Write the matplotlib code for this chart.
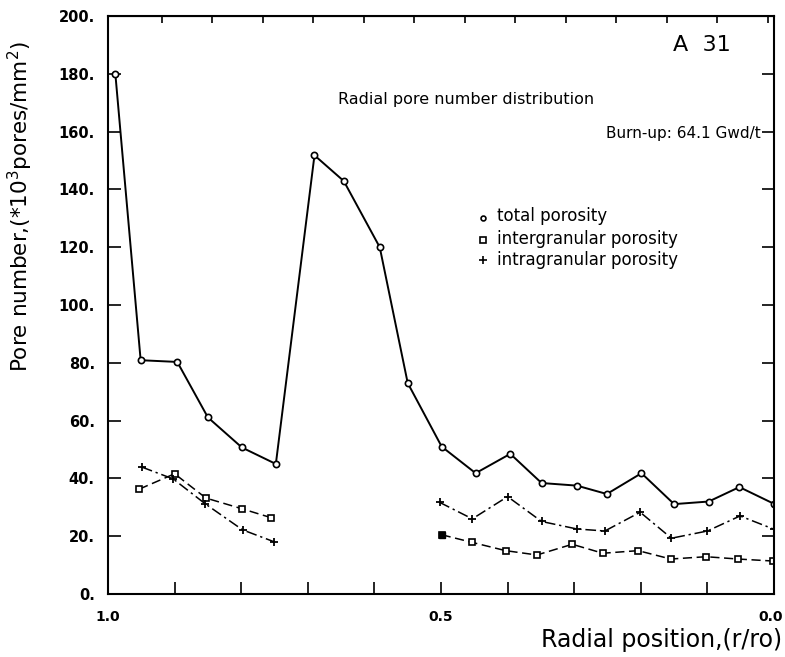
import numpy as np
import matplotlib
matplotlib.use("Agg")
import matplotlib.pyplot as plt

plt.rcParams['font.family'] = ['DejaVu Sans']

# total porosity
r_total = [0.989, 0.951, 0.896, 0.850, 0.799, 0.748, 0.690, 0.646, 0.592, 0.550,
           0.499, 0.448, 0.396, 0.349, 0.296, 0.251, 0.199, 0.150, 0.098, 0.052, 0.0]
n_total = [180.0, 80.9, 80.3, 61.1, 50.7, 45.0, 151.8, 142.9, 120.0, 73.0,
           51.0, 41.8, 48.5, 38.4, 37.5, 34.6, 41.8, 31.1, 32.0, 37.0, 31.2]

# intergranular porosity (two segments)
r_inter1 = [0.953, 0.900, 0.853, 0.799, 0.755]
n_inter1 = [36.3, 41.6, 33.2, 29.5, 26.4]
r_inter2 = [0.499, 0.454, 0.403, 0.356, 0.303, 0.257, 0.204, 0.155, 0.102, 0.054, 0.001]
n_inter2 = [20.5, 17.9, 15.0, 13.5, 17.2, 14.1, 15.0, 12.1, 12.9, 12.1, 11.4]

# intragranular porosity (two segments)
r_intra1 = [0.949, 0.902, 0.854, 0.798, 0.751]
n_intra1 = [43.9, 39.8, 31.2, 22.2, 18.1]
r_intra2 = [0.502, 0.453, 0.400, 0.349, 0.296, 0.254, 0.201, 0.154, 0.100, 0.051, 0.0]
n_intra2 = [31.7, 26.0, 33.7, 25.1, 22.5, 21.8, 28.3, 19.3, 21.8, 27.0, 22.4]

x_labels = ['1.0', '0.5', '0.0']
x_label_pos = [1.0, 0.5, 0.0]

fig = plt.figure(figsize=(7.85, 6.57), dpi=100)
ax = fig.add_axes([0.1376, 0.0959, 0.8484, 0.8797])

ax.plot(r_total, n_total, color='black', lw=1.4, marker='o', ms=4.5,
        mfc='white', mec='black', mew=1.2)
for r, n in [(r_inter1, n_inter1), (r_inter2, n_inter2)]:
    ax.plot(r, n, color='black', lw=1.1, ls=(0, (6, 3)), marker='s', ms=4.5,
            mfc='white', mec='black', mew=1.2)
for r, n in [(r_intra1, n_intra1), (r_intra2, n_intra2)]:
    ax.plot(r, n, color='black', lw=1.1, ls=(0, (7, 2.5, 1.5, 2.5)), marker='+',
            ms=6, mew=1.3)
# filled square at 0.5
ax.plot(r_inter2[0], n_inter2[0], marker='s', ms=4.5, color='black', ls='none')

ax.set_xlim(1.0, 0.0)
ax.set_ylim(0, 200)
ax.set_xticks(np.arange(0, 1.01, 0.1))
ax.set_xticklabels([])
ax.set_yticks(np.arange(0, 201, 20))
ax.set_yticklabels([f'{v}.' for v in range(0, 201, 20)])
ax.tick_params(direction='in', length=9, width=1.2, right=True,
               labelsize=10.5, pad=9.5)
for lab in ax.get_yticklabels():
    lab.set_fontweight('bold')
for s in ax.spines.values():
    s.set_linewidth(1.5)

# x tick labels (0.0 nudged left as in the original)
for lab, xp in zip(x_labels, x_label_pos):
    dx = -2.5 if xp == 0.0 else 0
    ax.annotate(lab, xy=(xp, 0), xycoords=('data', 'axes fraction'),
                xytext=(dx, -16.5), textcoords='offset points',
                ha='center', va='center', fontsize=10, fontweight='bold')

top = ax.secondary_xaxis('top')
top.set_xticks(np.arange(0.919, 0.0, -0.0758))
top.set_xticklabels([])
top.tick_params(direction='in', length=5, width=1.2)

fig.text(0.026, 0.686, 'Pore number,(*10$^3$pores/mm$^2$)', fontsize=15.5,
         rotation=90, ha='center', va='center')
fig.text(0.996, 0.026, 'Radial position,(r/ro)', fontsize=17, ha='right', va='center')

ax.text(0.892, 0.95, 'A  31', transform=ax.transAxes, fontsize=16,
        ha='center', va='center')
ax.text(0.537, 0.855, 'Radial pore number distribution', transform=ax.transAxes,
        fontsize=11.5, ha='center', va='center')
ax.text(0.98, 0.796, 'Burn-up: 64.1 Gwd/t', transform=ax.transAxes,
        fontsize=11, ha='right', va='center')

lx = 0.563
ax.plot([lx], [0.650], 'o', ms=3.5, mfc='white', mec='black', mew=1.2, transform=ax.transAxes)
ax.plot([lx], [0.612], 's', ms=4, mfc='white', mec='black', mew=1.2, transform=ax.transAxes)
ax.plot([lx], [0.578], '+', ms=6, color='black', mew=1.2, transform=ax.transAxes)
ax.text(lx + 0.021, 0.654, 'total porosity', transform=ax.transAxes, fontsize=12,
        va='center')
ax.text(lx + 0.021, 0.614, 'intergranular porosity', transform=ax.transAxes, fontsize=12,
        va='center')
ax.text(lx + 0.021, 0.578, 'intragranular porosity', transform=ax.transAxes, fontsize=12,
        va='center')

fig.savefig('out.png', dpi=100)
